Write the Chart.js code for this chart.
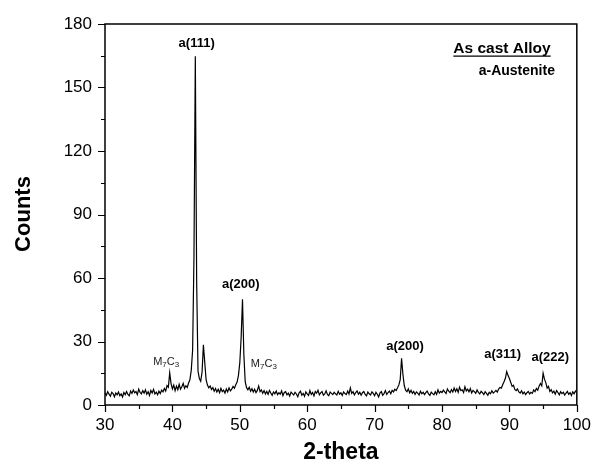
<!DOCTYPE html>
<html>
<head>
<meta charset="utf-8">
<title>XRD - As cast Alloy</title>
<script src="https://cdn.jsdelivr.net/npm/chart.js@4.4.1/dist/chart.umd.min.js"></script>
<style>
  html, body { margin: 0; padding: 0; background: #fff; }
  #wrap { width: 601px; height: 468px; }
</style>
</head>
<body>
<div id="wrap"><canvas id="xrd" width="601" height="468"></canvas></div>
<script>
// scan grid (degrees 2-theta)
const scanStart = 30
const scanStep = 0.2

// measured counts, one per step from 30.0 to 100.0
const counts = [
  5.8, 4.6, 6.3, 5.1, 4.2, 6.0, 5.4, 3.9, 5.7, 4.8,      // 30
  6.1, 4.4, 5.2, 3.8, 5.9, 4.9, 6.4, 5.0, 4.3, 6.6,      // 32
  5.5, 7.1, 5.8, 6.4, 4.9, 7.5, 6.0, 5.3, 6.8, 5.6,      // 34
  7.2, 5.1, 6.3, 4.5, 6.9, 5.7, 7.4, 5.2, 6.1, 4.8,      // 36
  6.5, 5.4, 7.0, 6.2, 7.8, 6.6, 9.2, 8.4, 15.2, 10.1,    // 38
  7.6, 9.4, 6.8, 8.9, 7.2, 9.8, 7.5, 8.6, 10.2, 7.9,     // 40
  9.1, 8.3, 10.4, 12.0, 16.5, 26.0, 70.0, 164.8, 58.0, 16.0, // 42
  12.5, 11.2, 15.5, 28.4, 20.0, 12.0, 9.4, 8.1, 9.0, 7.3,  // 44
  8.2, 6.5, 7.8, 6.1, 7.4, 5.8, 7.9, 6.3, 7.0, 5.6,      // 46
  7.6, 6.2, 8.1, 6.7, 7.5, 8.8, 7.9, 9.6, 10.8, 14.0,    // 48
  20.0, 32.0, 50.0, 24.0, 11.0, 8.2, 7.2, 8.4, 6.5, 7.7, // 50
  6.1, 7.4, 5.8, 6.9, 9.0, 6.3, 7.1, 5.5, 6.8, 5.2,      // 52
  6.4, 5.0, 6.9, 5.7, 4.6, 6.2, 5.3, 6.6, 4.9, 5.8,      // 54
  5.1, 6.7, 4.4, 5.9, 6.3, 4.8, 5.6, 4.2, 6.1, 5.4,      // 56
  4.7, 6.0, 5.2, 3.9, 5.8, 6.5, 4.6, 5.5, 4.1, 6.2,      // 58
  5.3, 4.5, 6.8, 5.0, 5.9, 4.3, 6.4, 5.6, 7.0, 4.8,      // 60
  5.7, 6.3, 4.6, 5.2, 6.7, 5.0, 4.4, 6.1, 5.5, 4.9,      // 62
  6.0, 5.3, 4.7, 6.5, 5.1, 5.8, 4.5, 6.2, 5.4, 4.9,      // 64
  6.6, 5.2, 8.1, 5.5, 6.3, 4.8, 5.9, 6.7, 5.1, 6.0,      // 66
  4.6, 5.8, 6.4, 5.0, 4.3, 6.1, 5.3, 4.7, 6.2, 5.5,      // 68
  4.4, 6.0, 5.1, 3.8, 5.7, 6.3, 4.6, 5.4, 6.8, 5.0,      // 70
  5.9, 6.6, 5.3, 6.9, 6.2, 7.4, 6.8, 8.1, 9.5, 12.0,     // 72
  22.1, 14.5, 9.2, 7.0, 6.3, 7.6, 5.8, 6.9, 5.5, 6.4,    // 74
  5.0, 6.2, 5.6, 4.7, 6.5, 5.3, 6.0, 4.9, 5.8, 6.6,      // 76
  5.2, 4.5, 6.1, 5.4, 4.8, 6.3, 5.0, 7.2, 5.6, 6.4,      // 78
  5.9, 7.0, 6.2, 5.4, 7.6, 6.5, 5.8, 7.3, 6.1, 8.0,      // 80
  6.4, 7.7, 6.0, 8.4, 6.8, 7.2, 5.9, 8.6, 6.6, 7.5,      // 82
  6.2, 7.8, 5.7, 6.9, 6.3, 5.5, 7.1, 6.0, 5.2, 6.5,      // 84
  5.8, 4.9, 6.3, 5.5, 4.6, 6.0, 5.3, 6.7, 5.6, 6.2,      // 86
  6.9, 6.1, 7.5, 8.3, 8.0, 9.6, 11.0, 12.6, 15.8, 13.9,  // 88
  12.5, 10.6, 8.8, 9.3, 7.4, 6.8, 7.6, 6.2, 5.6, 6.7,    // 90
  5.3, 6.1, 4.9, 5.8, 6.4, 5.2, 6.0, 5.5, 7.1, 6.3,      // 92
  7.8, 7.0, 8.9, 10.2, 9.1, 15.0, 12.2, 10.6, 8.0, 8.8,  // 94
  6.4, 7.2, 5.7, 6.5, 5.1, 6.8, 5.9, 4.8, 6.3, 5.4,      // 96
  6.0, 4.7, 5.6, 6.4, 5.0, 5.8, 4.5, 6.2, 5.3, 6.6,      // 98
  5.9                                                    // 100
]

// peak labels: [text, 2-theta, counts]
const peakLabels = [
  ['a(111)', 43.6, 170.8],
  ['a(200)', 50.15, 57.1],
  ['a(200)', 74.5, 27.9],
  ['a(311)', 89.0, 24.1],
  ['a(222)', 96.05, 22.7]
]

// carbide markers: [2-theta, counts]
const carbideLabels = [
  [39.07, 20.4],
  [53.57, 19.4]
]

const FONT = '"Liberation Sans", Arial, Helvetica, sans-serif'

const points = counts.map((c, i) => ({
  x: Math.round((scanStart + i * scanStep) * 10) / 10,
  y: c
}))

// frame, tick marks, axis titles and peak annotations
const decorations = {
  id: 'decorations',
  afterDraw(chart) {
    const { ctx, chartArea: a } = chart
    const xs = chart.scales.x
    const ys = chart.scales.y
    ctx.save()

    // box around the plot
    ctx.strokeStyle = '#000'
    ctx.lineWidth = 1.5
    ctx.strokeRect(a.left, a.top, a.right - a.left, a.bottom - a.top)

    // outward tick marks, long on labelled ticks
    ctx.lineWidth = 1.2
    ctx.beginPath()
    ys.ticks.forEach((t) => {
      const py = Math.round(ys.getPixelForValue(t.value)) + 0.5
      const len = t.value % 30 === 0 ? 7 : 4
      ctx.moveTo(a.left, py)
      ctx.lineTo(a.left - len, py)
    })
    xs.ticks.forEach((t) => {
      const px = Math.round(xs.getPixelForValue(t.value)) + 0.5
      const len = t.value % 10 === 0 ? 7 : 4
      ctx.moveTo(px, a.bottom)
      ctx.lineTo(px, a.bottom + len)
    })
    ctx.stroke()

    // axis titles
    ctx.fillStyle = '#000'
    ctx.font = 'bold 23px ' + FONT
    ctx.textAlign = 'center'
    ctx.textBaseline = 'middle'
    ctx.fillText('2-theta', (a.left + a.right) / 2, 453)
    ctx.save()
    ctx.translate(24, 214)
    ctx.rotate(-Math.PI / 2)
    ctx.font = 'bold 22px ' + FONT
    ctx.fillText('Counts', 0, 0)
    ctx.restore()

    // sample heading
    ctx.font = 'bold 15.5px ' + FONT
    const head = 'As cast Alloy'
    const hx = xs.getPixelForValue(88.9)
    const hy = ys.getPixelForValue(168.4)
    ctx.fillText(head, hx, hy)
    const hw = ctx.measureText(head).width
    ctx.lineWidth = 1.3
    ctx.beginPath()
    ctx.moveTo(hx - hw / 2, hy + 7.5)
    ctx.lineTo(hx + hw / 2, hy + 7.5)
    ctx.stroke()

    ctx.font = 'bold 14px ' + FONT
    ctx.fillText('a-Austenite', xs.getPixelForValue(91.1), ys.getPixelForValue(157.8))

    // peak indices
    ctx.font = 'bold 13px ' + FONT
    peakLabels.forEach(([txt, tx, ty]) => {
      ctx.fillText(txt, xs.getPixelForValue(tx), ys.getPixelForValue(ty))
    })

    // M7C3 with subscripts
    carbideLabels.forEach(([tx, ty]) => {
      const parts = [['M', 11, 0], ['7', 8, 2.5], ['C', 11, 0], ['3', 8, 2.5]]
      let w = 0
      parts.forEach(([s, size]) => {
        ctx.font = size + 'px ' + FONT
        w += ctx.measureText(s).width
      })
      let cx = xs.getPixelForValue(tx) - w / 2
      const cy = ys.getPixelForValue(ty)
      ctx.textAlign = 'left'
      ctx.fillStyle = '#1a1a1a'
      parts.forEach(([s, size, dy]) => {
        ctx.font = size + 'px ' + FONT
        ctx.fillText(s, cx, cy + dy)
        cx += ctx.measureText(s).width
      })
      ctx.textAlign = 'center'
    })

    ctx.restore()
  }
}

new Chart(document.getElementById('xrd'), {
  type: 'line',
  data: {
    datasets: [{
      data: points,
      borderColor: '#000',
      borderWidth: 1.2,
      pointRadius: 0,
      tension: 0,
      fill: false
    }]
  },
  options: {
    responsive: false,
    animation: false,
    events: [],
    layout: { padding: { top: 24, right: 16, left: 0, bottom: 0 } },
    plugins: {
      legend: { display: false },
      tooltip: { enabled: false }
    },
    scales: {
      x: {
        type: 'linear',
        min: 30,
        max: 100,
        afterFit: (scale) => { scale.height = 63 },
        grid: { display: false, drawTicks: false },
        border: { display: false },
        ticks: {
          stepSize: 5,
          autoSkip: false,
          maxRotation: 0,
          padding: 10,
          color: '#000',
          font: { family: FONT, size: 17 },
          callback: (v) => (v % 10 === 0 ? v : '')
        }
      },
      y: {
        min: 0,
        max: 180,
        afterFit: (scale) => { scale.width = 105 },
        grid: { display: false, drawTicks: false },
        border: { display: false },
        ticks: {
          stepSize: 15,
          autoSkip: false,
          padding: 13,
          color: '#000',
          font: { family: FONT, size: 17 },
          callback: (v) => (v % 30 === 0 ? v : '')
        }
      }
    }
  },
  plugins: [decorations]
})
</script>
</body>
</html>
